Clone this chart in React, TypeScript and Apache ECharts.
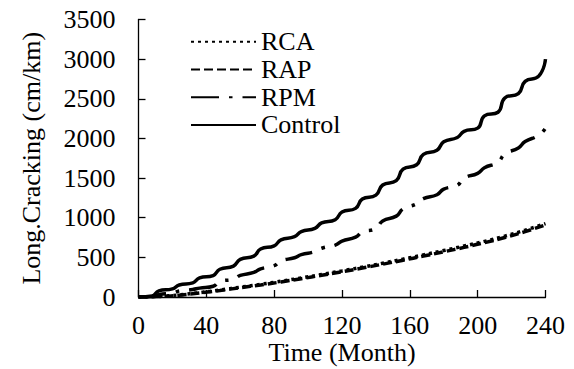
import React, { useEffect, useRef } from "react";
import * as echarts from "echarts";

// Months / values
const xTicks = [0, 40, 80, 120, 160, 200, 240];
const yTicks = [0, 500, 1000, 1500, 2000, 2500, 3000, 3500];

const rcaData: [number, number][] = [
  [0, 0], [12, 7], [24, 27], [36, 55], [48, 88], [60, 124], [72, 160], [84, 199],
  [96, 240], [108, 284], [120, 329], [132, 376], [144, 426], [156, 478], [168, 531],
  [180, 586], [192, 643], [204, 701], [216, 768], [228, 843], [240, 925],
];

const rapData: [number, number][] = [
  [0, 0], [12, 5], [24, 23], [36, 50], [48, 82], [60, 117], [72, 152], [84, 190],
  [96, 231], [108, 274], [120, 318], [132, 365], [144, 414], [156, 464], [168, 516],
  [180, 570], [192, 626], [204, 685], [216, 750], [228, 825], [240, 910],
];

const rpmData: [number, number][] = [
  [0, 0], [8, 3], [12, 30], [20, 50], [24, 75], [32, 95], [36, 112], [44, 135],
  [48, 195], [56, 225], [60, 272], [68, 310], [72, 355], [80, 395], [84, 455], [92, 495],
  [96, 535], [104, 572], [108, 615], [116, 655], [120, 705], [128, 755], [132, 820], [140, 865],
  [144, 960], [152, 1020], [156, 1110], [164, 1175], [168, 1240], [176, 1290], [180, 1360], [188, 1410],
  [192, 1500], [200, 1560], [204, 1630], [212, 1700], [216, 1805], [224, 1880], [228, 1960], [236, 2040],
  [240, 2130],
];

const controlData: [number, number][] = [
  [0, 0], [8, 12], [12, 78], [20, 102], [24, 152], [32, 178], [36, 240], [44, 270],
  [48, 350], [56, 390], [60, 475], [68, 515], [72, 605], [80, 645], [84, 720], [92, 760],
  [96, 825], [104, 865], [108, 935], [116, 975], [120, 1072], [128, 1118], [132, 1235], [140, 1285],
  [144, 1412], [152, 1468], [156, 1612], [164, 1668], [168, 1798], [176, 1852], [180, 1958], [188, 2012],
  [192, 2090], [200, 2130], [204, 2285], [212, 2330], [216, 2510], [224, 2565], [228, 2720], [236, 2785],
  [240, 3000],
];

const seriesNames = ["RCA", "RAP", "RPM", "Control"];

const FONT = "'Liberation Serif', 'Times New Roman', serif";

export default function App() {
  const ref = useRef<HTMLDivElement>(null);
  useEffect(() => {
    if (!ref.current) return;
    const chart = echarts.init(ref.current, undefined, { renderer: "svg" });
    const axisLine = { show: true, lineStyle: { color: "#000", width: 1.3 } };
    const axisTick = { show: true, inside: true, length: 7, lineStyle: { color: "#000", width: 1.3 } };
    const labelStyle = { color: "#000", fontSize: 26, fontFamily: FONT };
    const plain = (v: number) => String(v);
    chart.setOption({
      animation: false,
      backgroundColor: "#fff",
      textStyle: { fontFamily: FONT, color: "#000" },
      grid: {
        left: 138.5, top: 19.5, width: 407, height: 277.5,
        containLabel: false, outerBoundsMode: "none",
      },
      legend: {
        data: seriesNames,
        orient: "vertical",
        left: 190,
        top: 28,
        padding: 0,
        itemWidth: 65,
        itemHeight: 14,
        itemGap: 0,
        itemStyle: { opacity: 0 },
        textStyle: { color: "#000", fontSize: 26, fontFamily: FONT, lineHeight: 27.7 },
      },
      xAxis: {
        type: "value",
        min: xTicks[0],
        max: xTicks[xTicks.length - 1],
        interval: 40,
        name: "Time (Month)",
        nameLocation: "middle",
        nameGap: 45,
        nameMoveOverlap: false,
        nameTextStyle: { ...labelStyle, lineHeight: 20 },
        axisLine,
        axisTick,
        axisLabel: { ...labelStyle, lineHeight: 20, margin: 18, formatter: plain },
        splitLine: { show: false },
      },
      yAxis: {
        type: "value",
        min: yTicks[0],
        max: yTicks[yTicks.length - 1],
        interval: 500,
        name: "Long.Cracking (cm/km)",
        nameLocation: "middle",
        nameGap: 94,
        nameMoveOverlap: false,
        nameRotate: 90,
        nameTextStyle: labelStyle,
        axisLine,
        axisTick,
        axisLabel: { ...labelStyle, margin: 23, formatter: plain },
        splitLine: { show: false },
      },
      series: [
        {
          name: "RCA", type: "line", data: rcaData, symbol: "none", smooth: true,
          lineStyle: { color: "#000", width: 3.5, type: [3, 4] }, itemStyle: { color: "#000" },
        },
        {
          name: "RAP", type: "line", data: rapData, symbol: "none", smooth: true,
          lineStyle: { color: "#000", width: 3.5, type: [9, 4] }, itemStyle: { color: "#000" },
        },
        {
          name: "RPM", type: "line", data: rpmData, symbol: "none", smooth: 0.5,
          lineStyle: { color: "#000", width: 3.5, type: [28, 10, 3.5, 10] }, itemStyle: { color: "#000" },
        },
        {
          name: "Control", type: "line", data: controlData, symbol: "none", smooth: 0.5,
          lineStyle: { color: "#000", width: 3.5, type: "solid" }, itemStyle: { color: "#000" },
        },
      ],
    });
    return () => chart.dispose();
  }, []);
  return (
    <div
      ref={ref}
      style={{ position: "absolute", left: 0, top: 0, width: 574, height: 369 }}
    />
  );
}
